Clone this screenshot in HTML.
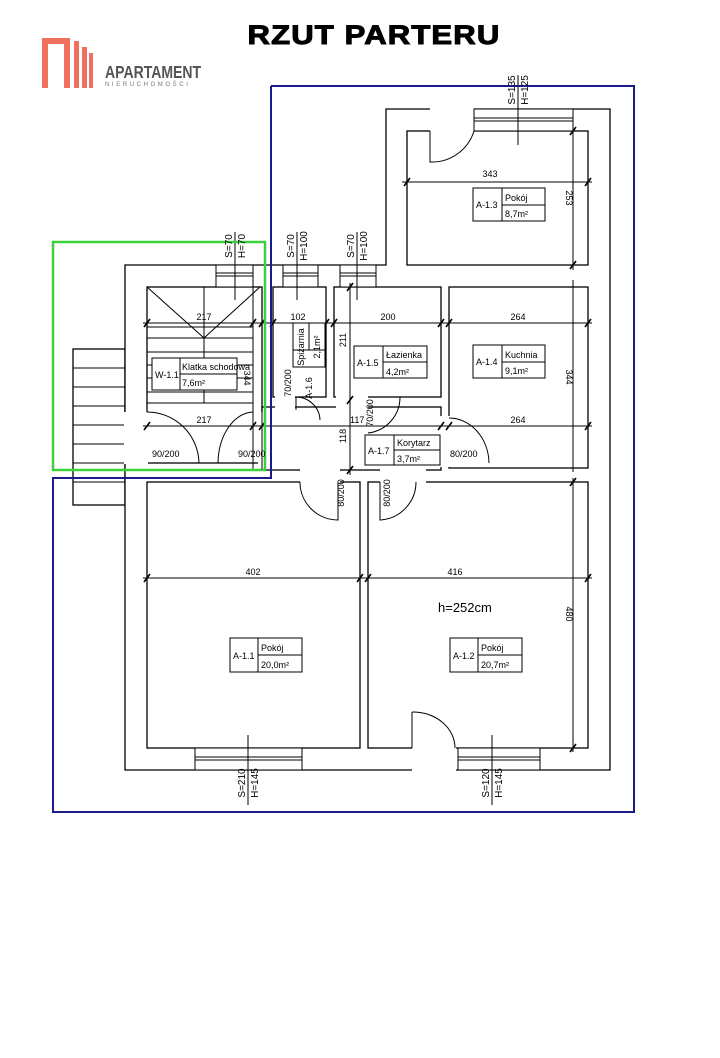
<!DOCTYPE html>
<html><head><meta charset="utf-8"><style>
html,body{margin:0;padding:0;background:#fff;}
svg{display:block;}
text{font-family:"Liberation Sans",sans-serif;fill:#000;}
.t{font-size:9px;}
</style></head><body>
<svg width="720" height="1058" viewBox="0 0 720 1058" xmlns="http://www.w3.org/2000/svg">
<rect width="720" height="1058" fill="#fff"/>
<!-- title -->
<text x="374" y="44" text-anchor="middle" style="font-size:27px;font-weight:900;letter-spacing:1px" stroke="#000" stroke-width="1" transform="translate(374,0) scale(1.15,1) translate(-374,0)">RZUT PARTERU</text>
<!-- logo -->
<g fill="#f07060">
<rect x="42" y="38" width="6" height="50"/><rect x="42" y="38" width="28" height="6"/><rect x="64" y="38" width="6" height="50"/>
<rect x="74" y="41" width="5" height="47"/><rect x="82" y="47" width="5" height="41"/><rect x="89" y="53" width="4" height="35"/>
</g>
<text x="0" y="0" style="font-size:18px;font-weight:bold;fill:#555" transform="translate(105,78) scale(0.78,1)">APARTAMENT</text>
<text x="105" y="86" style="font-size:6px;fill:#777;letter-spacing:2.6px">NIERUCHOMOŚCI</text>

<g stroke="#000" stroke-width="1.3" fill="#fff">
<rect x="73" y="349" width="52" height="156"/>
<polygon points="125,265 386,265 386,109 610,109 610,770 125,770"/>
<rect x="407" y="131" width="181" height="134"/>
<rect x="147" y="287" width="115" height="176"/>
<rect x="273" y="287" width="53" height="110"/>
<rect x="334" y="287" width="107" height="110"/>
<rect x="449" y="287" width="139" height="181"/>
<rect x="262" y="407" width="179" height="63"/>
<rect x="147" y="482" width="213" height="266"/>
<rect x="368" y="482" width="220" height="266"/>
</g>
<g stroke="#000" stroke-width="1" fill="none">
<line x1="73" y1="368" x2="125" y2="368"/><line x1="73" y1="387" x2="125" y2="387"/><line x1="73" y1="406" x2="125" y2="406"/><line x1="73" y1="425" x2="125" y2="425"/><line x1="73" y1="444" x2="125" y2="444"/><line x1="73" y1="463" x2="125" y2="463"/><line x1="73" y1="482" x2="125" y2="482"/>
</g>
<!-- openings -->
<g fill="#fff" stroke="none">
<rect x="124" y="412" width="24" height="52"/>
<rect x="258" y="412" width="20" height="56"/>
<rect x="300" y="469" width="40" height="14"/>
<rect x="380" y="469" width="46" height="14"/>
<rect x="440" y="416" width="10" height="51"/>
<rect x="275" y="396" width="20" height="12"/>
<rect x="336" y="396" width="32" height="12"/>
<rect x="412" y="746" width="44" height="26"/>
<rect x="430" y="108" width="44" height="25"/>
</g>
<g stroke="#000" stroke-width="1" fill="none">
<path d="M147,412 A52,52 0 0 1 199,463"/>
<path d="M253,412 A36,52 0 0 0 218,463"/>
<path d="M338,482 L338,520 A38,38 0 0 1 300,482"/>
<path d="M380,482 L380,520 A38,38 0 0 0 416,482"/>
<path d="M449,418 A40,46 0 0 1 489,463"/>
<path d="M296,397 L296,410 M296,397 A24,24 0 0 1 320,420"/>
<path d="M400,397 A36,36 0 0 1 368,433"/>
<path d="M412,712 L412,748 M412,712 A42,36 0 0 1 455,748"/>
<path d="M430,131 L430,162 A44,44 0 0 0 474,131"/>
<rect x="216" y="265" width="37" height="22" fill="#fff"/><line x1="216" y1="273" x2="253" y2="273"/><line x1="216" y1="276" x2="253" y2="276"/>
<rect x="283" y="265" width="35" height="22" fill="#fff"/><line x1="283" y1="273" x2="318" y2="273"/><line x1="283" y1="276" x2="318" y2="276"/>
<rect x="340" y="265" width="36" height="22" fill="#fff"/><line x1="340" y1="273" x2="376" y2="273"/><line x1="340" y1="276" x2="376" y2="276"/>
<rect x="474" y="109" width="99" height="22" fill="#fff"/><line x1="474" y1="118" x2="573" y2="118"/><line x1="474" y1="121" x2="573" y2="121"/>
<rect x="195" y="748" width="107" height="22" fill="#fff"/><line x1="195" y1="757" x2="302" y2="757"/><line x1="195" y1="760" x2="302" y2="760"/>
<rect x="458" y="748" width="82" height="22" fill="#fff"/><line x1="458" y1="757" x2="540" y2="757"/><line x1="458" y1="760" x2="540" y2="760"/>
<line x1="235" y1="232" x2="235" y2="300"/><line x1="297" y1="232" x2="297" y2="300"/><line x1="357" y1="232" x2="357" y2="300"/>
<line x1="518" y1="75" x2="518" y2="145"/><line x1="248" y1="735" x2="248" y2="805"/><line x1="492" y1="735" x2="492" y2="805"/>
<line x1="147" y1="287" x2="204" y2="338"/><line x1="204" y1="338" x2="260" y2="287"/>
<line x1="204" y1="287" x2="204" y2="403"/><line x1="253" y1="265" x2="253" y2="470"/>
<line x1="147" y1="327" x2="253" y2="327"/><line x1="147" y1="338" x2="253" y2="338"/><line x1="147" y1="352" x2="253" y2="352"/><line x1="147" y1="365" x2="253" y2="365"/><line x1="147" y1="378" x2="253" y2="378"/><line x1="147" y1="392" x2="253" y2="392"/><line x1="147" y1="403" x2="253" y2="403"/>
<line x1="402" y1="182" x2="592" y2="182"/>
<line x1="573" y1="125" x2="573" y2="270"/>
<line x1="143" y1="323" x2="592" y2="323"/>
<line x1="143" y1="426" x2="592" y2="426"/>
<line x1="350" y1="283" x2="350" y2="475"/>
<line x1="573" y1="280" x2="573" y2="472"/>
<line x1="143" y1="578" x2="592" y2="578"/>
<line x1="573" y1="478" x2="573" y2="752"/>
<line x1="262" y1="287" x2="262" y2="470"/>
</g>
<g stroke="#000" stroke-width="1.6">
<path d="M404,186 l6,-8 M585,186 l6,-8 M570,135 l6,-8 M570,269 l6,-8 M144,327 l6,-8 M250,327 l6,-8 M259,327 l6,-8 M270,327 l6,-8 M323,327 l6,-8 M331,327 l6,-8 M438,327 l6,-8 M446,327 l6,-8 M585,327 l6,-8 M144,430 l6,-8 M250,430 l6,-8 M259,430 l6,-8 M438,430 l6,-8 M446,430 l6,-8 M585,430 l6,-8 M347,291 l6,-8 M347,404 l6,-8 M347,474 l6,-8 M144,582 l6,-8 M357,582 l6,-8 M365,582 l6,-8 M585,582 l6,-8 M570,486 l6,-8 M570,752 l6,-8"/>
</g>
<polyline points="271,86 634,86 634,812 53,812 53,478 271,478 271,86" fill="none" stroke="#1a1a8c" stroke-width="2"/>
<rect x="53" y="242" width="212" height="228" fill="none" stroke="#3ecf3e" stroke-width="2.5"/>

<g stroke="#000" stroke-width="1" fill="#fff">
<rect x="473" y="188" width="72" height="33"/>
<rect x="473" y="345" width="72" height="33"/>
<rect x="354" y="346" width="73" height="32"/>
<rect x="365" y="435" width="75" height="30"/>
<rect x="152" y="358" width="85" height="32"/>
<rect x="293" y="323" width="32" height="44"/>
<rect x="230" y="638" width="72" height="34"/>
<rect x="450" y="638" width="72" height="34"/>
</g>
<g stroke="#000" stroke-width="1">
<path d="M502,188 V221 M502,205 H545 M502,345 V378 M502,362 H545 M383,346 V378 M383,362 H427 M394,435 V465 M394,450 H440 M180,358 V390 M180,374 H237 M293,350 H325 M309,323 V350 M258,638 V672 M258,655 H302 M478,638 V672 M478,655 H522"/>
</g>
<g class="t">
<text x="476" y="208">A-1.3</text><text x="505" y="201">Pokój</text><text x="505" y="217">8,7m²</text>
<text x="476" y="365">A-1.4</text><text x="505" y="358">Kuchnia</text><text x="505" y="374">9,1m²</text>
<text x="357" y="366">A-1.5</text><text x="386" y="358">Łazienka</text><text x="386" y="375">4,2m²</text>
<text x="368" y="454">A-1.7</text><text x="397" y="446">Korytarz</text><text x="397" y="462">3,7m²</text>
<text x="155" y="378">W-1.1</text><text x="182" y="370">Klatka schodowa</text><text x="182" y="386">7,6m²</text>
<text x="233" y="659">A-1.1</text><text x="261" y="651">Pokój</text><text x="261" y="668">20,0m²</text>
<text x="453" y="659">A-1.2</text><text x="481" y="651">Pokój</text><text x="481" y="668">20,7m²</text>
<text transform="translate(304,347) rotate(-90)" text-anchor="middle">Spiżarnia</text>
<text transform="translate(320,347) rotate(-90)" text-anchor="middle">2,1m²</text>
<text transform="translate(312,388) rotate(-90)" text-anchor="middle">A-1.6</text>
<text x="490" y="177" text-anchor="middle">343</text>
<text x="204" y="320" text-anchor="middle">217</text><text x="298" y="320" text-anchor="middle">102</text><text x="388" y="320" text-anchor="middle">200</text><text x="518" y="320" text-anchor="middle">264</text>
<text x="204" y="423" text-anchor="middle">217</text><text x="518" y="423" text-anchor="middle">264</text>
<text x="253" y="575" text-anchor="middle">402</text><text x="455" y="575" text-anchor="middle">416</text>
<text x="152" y="457">90/200</text><text x="238" y="457">90/200</text><text x="450" y="457">80/200</text>
<text x="350" y="423">117</text>
<text transform="translate(566,198) rotate(90)" text-anchor="middle">253</text>
<text transform="translate(566,377) rotate(90)" text-anchor="middle">344</text>
<text transform="translate(566,614) rotate(90)" text-anchor="middle">480</text>
<text transform="translate(244,378) rotate(90)" text-anchor="middle">344</text>
<text transform="translate(346,340) rotate(-90)" text-anchor="middle">211</text>
<text transform="translate(346,436) rotate(-90)" text-anchor="middle">118</text>
<text transform="translate(291,383) rotate(-90)" text-anchor="middle">70/200</text>
<text transform="translate(373,413) rotate(-90)" text-anchor="middle">70/200</text>
<text transform="translate(344,493) rotate(-90)" text-anchor="middle">80/200</text>
<text transform="translate(390,493) rotate(-90)" text-anchor="middle">80/200</text>
<text transform="translate(232,246) rotate(-90)" text-anchor="middle" style="font-size:10px">S=70</text>
<text transform="translate(245,246) rotate(-90)" text-anchor="middle" style="font-size:10px">H=70</text>
<text transform="translate(294,246) rotate(-90)" text-anchor="middle" style="font-size:10px">S=70</text>
<text transform="translate(307,246) rotate(-90)" text-anchor="middle" style="font-size:10px">H=100</text>
<text transform="translate(354,246) rotate(-90)" text-anchor="middle" style="font-size:10px">S=70</text>
<text transform="translate(367,246) rotate(-90)" text-anchor="middle" style="font-size:10px">H=100</text>
<text transform="translate(515,90) rotate(-90)" text-anchor="middle" style="font-size:10px">S=135</text>
<text transform="translate(528,90) rotate(-90)" text-anchor="middle" style="font-size:10px">H=125</text>
<text transform="translate(245,783) rotate(-90)" text-anchor="middle" style="font-size:10px">S=210</text>
<text transform="translate(258,783) rotate(-90)" text-anchor="middle" style="font-size:10px">H=145</text>
<text transform="translate(489,783) rotate(-90)" text-anchor="middle" style="font-size:10px">S=120</text>
<text transform="translate(502,783) rotate(-90)" text-anchor="middle" style="font-size:10px">H=145</text>
</g>
<text x="438" y="612" style="font-size:13px">h=252cm</text>
</svg>
</body></html>
